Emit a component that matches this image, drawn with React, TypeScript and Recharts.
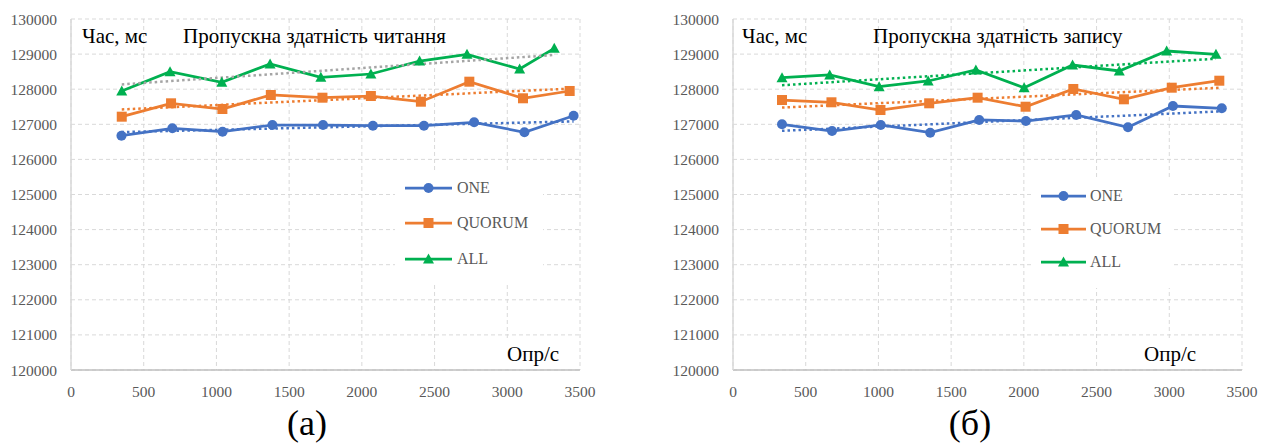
import React from 'react';
import { LineChart, Line, XAxis, YAxis, CartesianGrid, Legend } from 'recharts';

const FONT = "Liberation Serif, 'DejaVu Serif', serif";

const SERIES_NAMES = ['ONE', 'QUORUM', 'ALL'];
const COLORS = ['#4472C4', '#ED7D31', '#00B050'];
const X_TICKS = [0, 500, 1000, 1500, 2000, 2500, 3000, 3500];
const Y_TICKS = [120000, 121000, 122000, 123000, 124000, 125000, 126000, 127000, 128000, 129000, 130000];

// (а) Пропускна здатність читання
const READ_ONE_X = [347, 697, 1042, 1385, 1733, 2076, 2427, 2772, 3118, 3456];
const READ_ONE_Y = [126675, 126886, 126789, 126980, 126980, 126960, 126960, 127057, 126772, 127245];
const READ_QUORUM_X = [349, 688, 1041, 1374, 1729, 2062, 2406, 2739, 3108, 3429];
const READ_QUORUM_Y = [127217, 127598, 127436, 127835, 127758, 127806, 127644, 128214, 127741, 127949];
const READ_ALL_X = [349, 681, 1037, 1369, 1718, 2062, 2397, 2723, 3085, 3323];
const READ_ALL_Y = [127949, 128499, 128197, 128718, 128339, 128433, 128803, 128994, 128575, 129165];

// (б) Пропускна здатність запису
const WRITE_ONE_X = [337, 681, 1016, 1356, 1693, 2014, 2360, 2716, 3025, 3361];
const WRITE_ONE_Y = [127000, 126809, 126980, 126761, 127123, 127094, 127265, 126915, 127521, 127456];
const WRITE_QUORUM_X = [337, 677, 1014, 1349, 1682, 2012, 2340, 2688, 3017, 3344];
const WRITE_QUORUM_Y = [127692, 127627, 127407, 127598, 127758, 127501, 128006, 127712, 128043, 128242];
const WRITE_ALL_X = [337, 665, 1005, 1342, 1670, 2002, 2335, 2656, 2982, 3321];
const WRITE_ALL_Y = [128328, 128405, 128071, 128234, 128547, 128043, 128689, 128519, 129088, 128994];

type Pt = { x: number; y: number };

const toPoints = (xs: number[], ys: number[]): Pt[] => xs.map((x, i) => ({ x, y: ys[i] }));

// linear trend (least squares), as Excel draws it
function trendOf(pts: Pt[]): Pt[] {
  const n = pts.length;
  const mx = pts.reduce((s, p) => s + p.x, 0) / n;
  const my = pts.reduce((s, p) => s + p.y, 0) / n;
  let num = 0;
  let den = 0;
  pts.forEach((p) => {
    num += (p.x - mx) * (p.y - my);
    den += (p.x - mx) * (p.x - mx);
  });
  const k = num / den;
  const x0 = pts[0].x;
  const x1 = pts[n - 1].x;
  return [
    { x: x0, y: my + k * (x0 - mx) },
    { x: x1, y: my + k * (x1 - mx) },
  ];
}

function Marker({ shape, cx, cy, color }: any) {
  if (cx == null || cy == null) return null;
  if (shape === 'square') {
    return <rect x={cx - 5} y={cy - 5} width={10} height={10} fill={color} />;
  }
  if (shape === 'triangle') {
    return (
      <polygon
        points={`${cx},${cy - 5.5} ${cx + 5.5},${cy + 4.5} ${cx - 5.5},${cy + 4.5}`}
        fill={color}
      />
    );
  }
  return <circle cx={cx} cy={cy} r={5} fill={color} />;
}

const SHAPES = ['circle', 'square', 'triangle'];

interface PanelProps {
  left: number;
  width: number;
  yAxisWidth: number;
  marginRight: number;
  title: string;
  caption: string;
  series: Pt[][];
  trendColors: string[];
  labels: { chasX: number; titleX: number; oprX: number; captionX: number };
  legendBox: { left: number; top: number; width: number; height: number; rows: number[]; lineX: number; lineW: number; textX: number };
}

function Panel({ left, width, yAxisWidth, marginRight, title, caption, series, trendColors, labels, legendBox }: PanelProps) {
  const tickStyle = { fill: '#595959', fontSize: 15.5, style: { fontFamily: FONT } };

  const renderLegend = () => (
    <div style={{ position: 'relative', width: legendBox.width, height: legendBox.height, background: '#fff' }}>
      {SERIES_NAMES.map((name, i) => (
        <div key={name}>
          <svg
            width={legendBox.lineW}
            height={12}
            style={{ position: 'absolute', left: legendBox.lineX, top: legendBox.rows[i] - 6 }}
          >
            <line x1={0} y1={6} x2={legendBox.lineW} y2={6} stroke={COLORS[i]} strokeWidth={2.75} />
            <Marker shape={SHAPES[i]} cx={legendBox.lineW / 2} cy={6} color={COLORS[i]} />
          </svg>
          <span
            style={{
              position: 'absolute',
              left: legendBox.textX,
              top: legendBox.rows[i] - 10,
              lineHeight: '20px',
              fontSize: 16,
              fontFamily: FONT,
              color: '#595959',
              whiteSpace: 'nowrap',
            }}
          >
            {name}
          </span>
        </div>
      ))}
    </div>
  );

  return (
    <div style={{ position: 'absolute', left, top: 0, width, height: 444, fontFamily: FONT }}>
      <LineChart
        width={width}
        height={400}
        margin={{ top: 19, right: marginRight, bottom: 0, left: 0 }}
        style={{ fontFamily: FONT }}
      >
        <CartesianGrid stroke="#D9D9D9" strokeDasharray="4 3" />
        <XAxis
          type="number"
          dataKey="x"
          domain={[0, 3500]}
          ticks={X_TICKS}
          interval={0}
          height={30}
          tick={tickStyle}
          tickLine={false}
          tickSize={6}
          tickMargin={10}
          axisLine={{ stroke: '#BFBFBF', strokeWidth: 1.5 }}
          allowDataOverflow
        />
        <YAxis
          type="number"
          dataKey="y"
          domain={[120000, 130000]}
          ticks={Y_TICKS}
          interval={0}
          width={yAxisWidth}
          tick={tickStyle}
          tickLine={false}
          tickSize={6}
          tickMargin={8}
          axisLine={{ stroke: '#D9D9D9', strokeWidth: 1.5 }}
          allowDataOverflow
        />
        <Legend
          layout="horizontal"
          verticalAlign="middle"
          align="center"
          content={renderLegend}
          wrapperStyle={{ left: legendBox.left, top: legendBox.top, width: legendBox.width, height: legendBox.height }}
        />
        {series.map((pts, i) => (
          <Line
            key={SERIES_NAMES[i]}
            name={SERIES_NAMES[i]}
            data={pts}
            dataKey="y"
            type="linear"
            stroke={COLORS[i]}
            strokeWidth={2.75}
            dot={<Marker shape={SHAPES[i]} color={COLORS[i]} />}
            activeDot={false}
            isAnimationActive={false}
          />
        ))}
        {series.map((pts, i) => (
          <Line
            key={SERIES_NAMES[i] + '-trend'}
            name={SERIES_NAMES[i] + ' trend'}
            data={trendOf(pts)}
            dataKey="y"
            type="linear"
            stroke={trendColors[i]}
            strokeWidth={2.5}
            strokeDasharray="2.5 3"
            dot={false}
            activeDot={false}
            legendType="none"
            isAnimationActive={false}
          />
        ))}
      </LineChart>
      <svg
        width={width}
        height={444}
        style={{ position: 'absolute', left: 0, top: 0, pointerEvents: 'none', fontFamily: FONT }}
      >
        <text x={labels.chasX} y={43} fontSize={21} fill="#000">
          Час, мс
        </text>
        <text x={labels.titleX} y={43} fontSize={21} fill="#000">
          {title}
        </text>
        <rect x={labels.oprX - 6} y={339} width={66} height={29} fill="#fff" />
        <text x={labels.oprX} y={361} fontSize={21} fill="#000">
          Опр/с
        </text>
        <text x={labels.captionX} y={435} fontSize={36} fill="#000" textAnchor="middle">
          {caption}
        </text>
      </svg>
    </div>
  );
}

export default function App() {
  const readSeries = [
    toPoints(READ_ONE_X, READ_ONE_Y),
    toPoints(READ_QUORUM_X, READ_QUORUM_Y),
    toPoints(READ_ALL_X, READ_ALL_Y),
  ];
  const writeSeries = [
    toPoints(WRITE_ONE_X, WRITE_ONE_Y),
    toPoints(WRITE_QUORUM_X, WRITE_QUORUM_Y),
    toPoints(WRITE_ALL_X, WRITE_ALL_Y),
  ];

  return (
    <div style={{ position: 'absolute', left: 0, top: 0, width: 1271, height: 444, background: '#fff', overflow: 'hidden' }}>
      <Panel
        left={0}
        width={600}
        yAxisWidth={71}
        marginRight={20}
        title="Пропускна здатність читання"
        caption="(а)"
        series={readSeries}
        trendColors={['#4472C4', '#ED7D31', '#A5A5A5']}
        labels={{ chasX: 82, titleX: 183, oprX: 507, captionX: 307 }}
        legendBox={{ left: 395, top: 172, width: 148, height: 113, rows: [16, 51, 87], lineX: 10, lineW: 47, textX: 62 }}
      />
      <Panel
        left={640}
        width={620}
        yAxisWidth={93}
        marginRight={18}
        title="Пропускна здатність запису"
        caption="(б)"
        series={writeSeries}
        trendColors={['#4472C4', '#ED7D31', '#00B050']}
        labels={{ chasX: 102, titleX: 233, oprX: 504, captionX: 330 }}
        legendBox={{ left: 391, top: 180, width: 140, height: 108, rows: [16, 49, 82], lineX: 10, lineW: 45, textX: 59 }}
      />
    </div>
  );
}
